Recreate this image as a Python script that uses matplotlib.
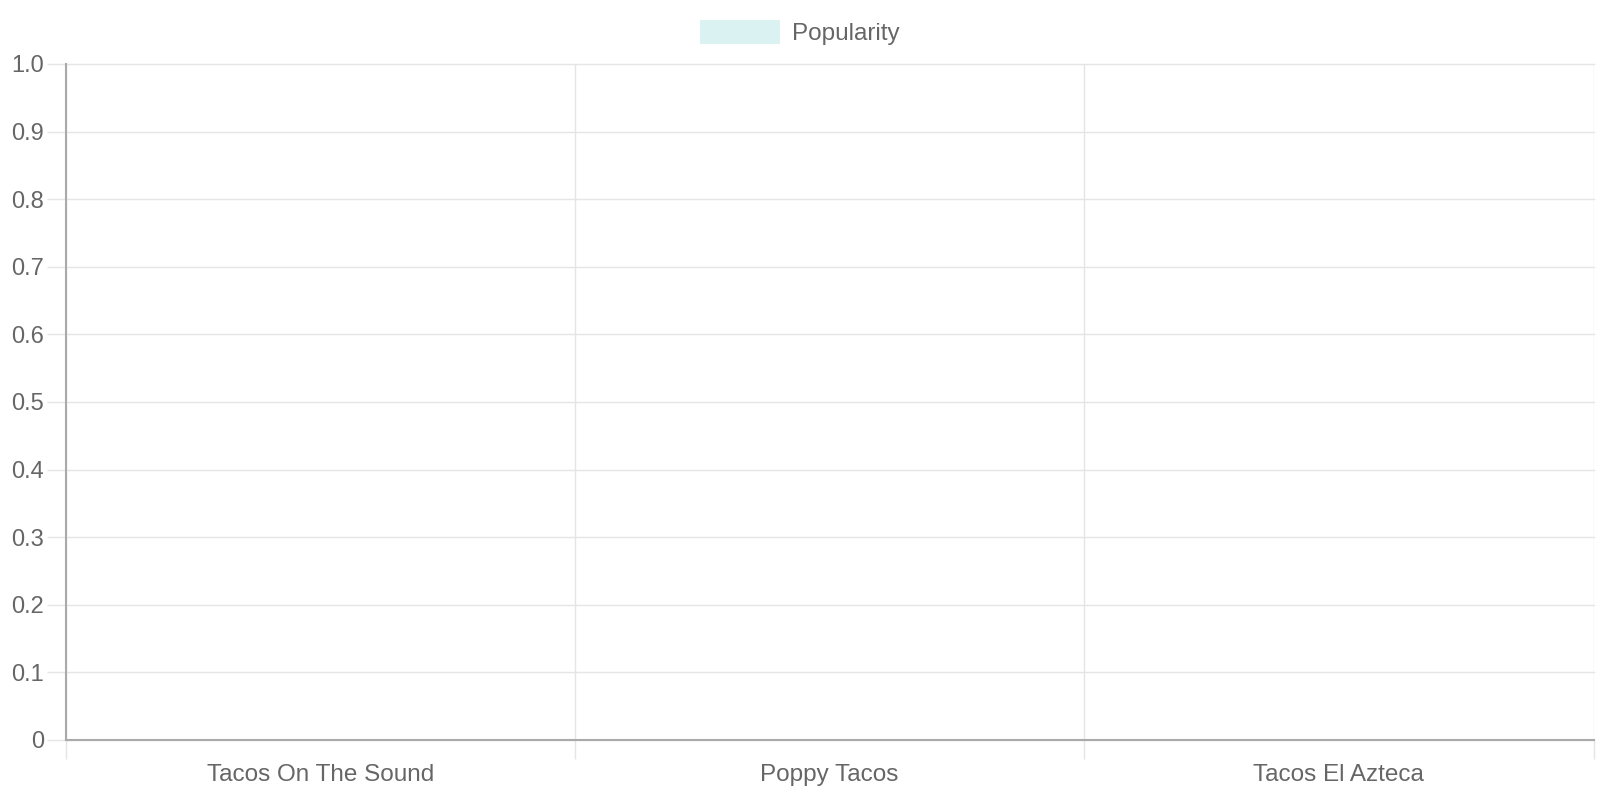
import matplotlib
matplotlib.use("Agg")
import matplotlib.pyplot as plt
from matplotlib.ticker import FixedLocator

plt.rcParams['font.family'] = ['Liberation Sans', 'DejaVu Sans']

# ---- Data ----
restaurants = ["Tacos On The Sound", "Poppy Tacos", "Tacos El Azteca"]
popularity = [0, 0, 0]
y_ticks = [i / 10 for i in range(11)]

text_color = "#666666"
grid_color = "#e5e5e5"
axis_color = "#aaaaaa"
fill_color = (75 / 255, 192 / 255, 192 / 255, 0.2)

fig = plt.figure(figsize=(16, 8), dpi=100)
ax = fig.add_axes([0.041, 0.075, 0.955, 0.845])

x = list(range(len(restaurants)))
bars = ax.bar(x, popularity, width=0.8, color=fill_color, linewidth=0, label="Popularity")

ax.set_xlim(-0.5, len(restaurants) - 0.5)
ax.set_ylim(0, 1.0)

# y axis
ax.set_yticks(y_ticks)
ax.set_yticklabels(["0"] + [f"{v:.1f}" for v in y_ticks[1:]])
ax.tick_params(axis="y", which="major", length=14, width=1, color=grid_color,
               pad=1.5, labelsize=17, labelcolor=text_color)
ax.yaxis.grid(True, color=grid_color, linewidth=1)

# x axis: labels centered, grid lines between categories
ax.set_xticks(x)
ax.set_xticklabels(restaurants)
ax.tick_params(axis="x", which="major", length=0, pad=17, labelsize=17.5, labelcolor=text_color)
ax.xaxis.set_minor_locator(FixedLocator([i - 0.5 for i in range(len(restaurants) + 1)]))
ax.tick_params(axis="x", which="minor", length=14, width=1, color=grid_color)
ax.xaxis.grid(True, which="minor", color=grid_color, linewidth=1)

for line in ax.get_xgridlines() + ax.get_ygridlines():
    line.set_clip_on(False)

for side in ["top", "right"]:
    ax.spines[side].set_visible(False)
for side in ["left", "bottom"]:
    ax.spines[side].set_color(axis_color)
    ax.spines[side].set_linewidth(1.5)
    ax.spines[side].set_zorder(3)
ax.set_axisbelow(True)

# ---- Legend ----
leg = fig.legend(handles=[bars], labels=["Popularity"], loc="upper center",
                 bbox_to_anchor=(0.5, 0.975), frameon=False, fontsize=17.5,
                 handlelength=3.3, handleheight=1.16, handletextpad=0.5,
                 borderpad=0, borderaxespad=0)
for t in leg.get_texts():
    t.set_color(text_color)

fig.savefig("out.png", dpi=100, facecolor="white")
